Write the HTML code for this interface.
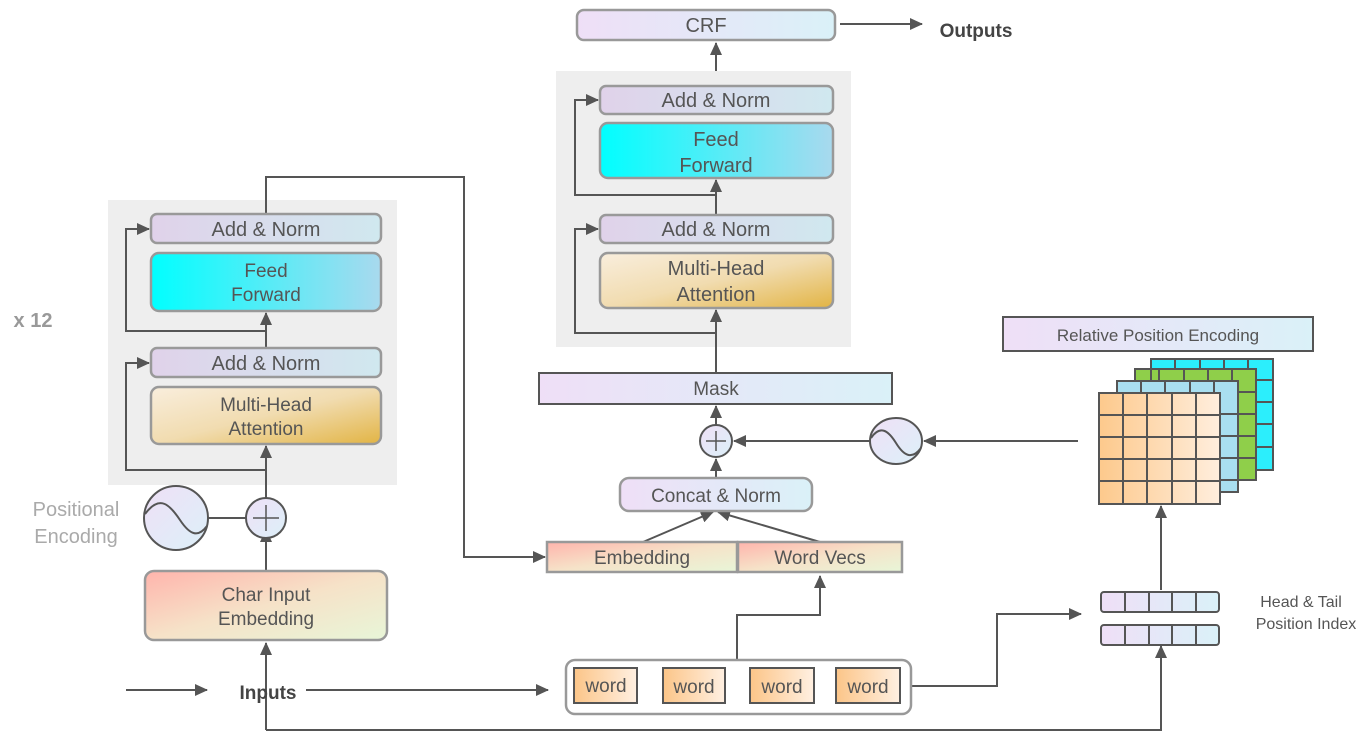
<!DOCTYPE html>
<html><head><meta charset="utf-8"><style>body{margin:0;background:#fff}svg{display:block}text{font-family:"Liberation Sans",sans-serif}</style></head><body>
<svg width="1365" height="748" viewBox="0 0 1365 748" xmlns="http://www.w3.org/2000/svg">
<defs>
<linearGradient id="an" x1="0" x2="1" y1="0" y2="0"><stop offset="0" stop-color="#e0d2ea"/><stop offset="1" stop-color="#d0e8ef"/></linearGradient>
<linearGradient id="lv" x1="0" x2="1" y1="0" y2="0"><stop offset="0" stop-color="#efdff7"/><stop offset="1" stop-color="#daf1f8"/></linearGradient>
<linearGradient id="ff" x1="0" x2="1" y1="0" y2="0"><stop offset="0" stop-color="#00ffff"/><stop offset="1" stop-color="#a9d9ee"/></linearGradient>
<linearGradient id="mh" x1="0" x2="1" y1="0" y2="1"><stop offset="0" stop-color="#f9eedd"/><stop offset="0.5" stop-color="#f1dcb0"/><stop offset="1" stop-color="#e2b444"/></linearGradient>
<linearGradient id="em" x1="0" x2="1" y1="0" y2="1"><stop offset="0" stop-color="#ffb4ac"/><stop offset="0.5" stop-color="#f6e2c8"/><stop offset="1" stop-color="#e8f6d8"/></linearGradient>
<linearGradient id="wd" x1="0" x2="1" y1="0" y2="0"><stop offset="0" stop-color="#fcc588"/><stop offset="1" stop-color="#fff0e2"/></linearGradient>
<linearGradient id="or" x1="0" x2="1" y1="0" y2="0"><stop offset="0" stop-color="#fdc98c"/><stop offset="1" stop-color="#ffeedd"/></linearGradient>
<linearGradient id="ci" x1="0" x2="1" y1="0" y2="1"><stop offset="0" stop-color="#efe0f6"/><stop offset="1" stop-color="#dcf0f9"/></linearGradient>
<marker id="a" markerWidth="13" markerHeight="12" refX="12" refY="6" orient="auto" markerUnits="userSpaceOnUse"><path d="M0,0 L13,6 L0,12 z" fill="#555"/></marker>
</defs>
<rect x="108" y="200" width="289" height="285" fill="#eeeeee"/>
<rect x="556" y="71" width="295" height="276" fill="#eeeeee"/>

<g stroke="#555" stroke-width="2" fill="none">
<path d="M266 570 V530" marker-end="url(#a)"/>
<path d="M266 498 V446" marker-end="url(#a)"/>
<path d="M266 470 H126 V363 H149" marker-end="url(#a)"/>
<path d="M266 378 V313" marker-end="url(#a)"/>
<path d="M266 331 H126 V229 H149" marker-end="url(#a)"/>
<path d="M266 214 V177 H464 V557 H545" marker-end="url(#a)"/>
<path d="M208 518 H246"/>
<path d="M266 730 V643" marker-end="url(#a)"/>
<path d="M126 690 H207" marker-end="url(#a)"/>
<path d="M306 690 H548" marker-end="url(#a)"/>
<path d="M266 730 H1161 V646" marker-end="url(#a)"/>
<path d="M716 373 V310" marker-end="url(#a)"/>
<path d="M716 333 H575 V229 H598" marker-end="url(#a)"/>
<path d="M716 243 V180" marker-end="url(#a)"/>
<path d="M716 195 H575 V100 H598" marker-end="url(#a)"/>
<path d="M716 71 V43" marker-end="url(#a)"/>
<path d="M840 24 H922" marker-end="url(#a)"/>
<path d="M716 478 V459" marker-end="url(#a)"/>
<path d="M716 425 V406" marker-end="url(#a)"/>
<path d="M1078 441 H924" marker-end="url(#a)"/>
<path d="M870 441 H734" marker-end="url(#a)"/>
<path d="M643 542 L713 512" marker-end="url(#a)"/>
<path d="M820 542 L718 512" marker-end="url(#a)"/>
<path d="M737 660 V615 H820 V576" marker-end="url(#a)"/>
<path d="M911 686 H997 V614 H1081" marker-end="url(#a)"/>
<path d="M1161 590 V506" marker-end="url(#a)"/>
</g>

<g stroke="#999" stroke-width="2.5">
<rect x="151" y="214" width="230" height="29" rx="6" fill="url(#an)"/>
<rect x="151" y="253" width="230" height="58" rx="8" fill="url(#ff)"/>
<rect x="151" y="348" width="230" height="29" rx="6" fill="url(#an)"/>
<rect x="151" y="387" width="230" height="57" rx="8" fill="url(#mh)"/>
<rect x="145" y="571" width="242" height="69" rx="9" fill="url(#em)"/>
<rect x="577" y="10" width="258" height="30" rx="7" fill="url(#lv)"/>
<rect x="600" y="86" width="233" height="28" rx="6" fill="url(#an)"/>
<rect x="600" y="123" width="233" height="55" rx="8" fill="url(#ff)"/>
<rect x="600" y="215" width="233" height="28" rx="6" fill="url(#an)"/>
<rect x="600" y="253" width="233" height="55" rx="8" fill="url(#mh)"/>
<rect x="620" y="478" width="192" height="33" rx="9" fill="url(#lv)"/>
<rect x="547" y="542" width="190" height="30" fill="url(#em)"/>
<rect x="738" y="542" width="164" height="30" fill="url(#em)"/>
<rect x="566" y="660" width="345" height="54" rx="9" fill="#fff"/>
</g>
<g stroke="#555" stroke-width="2">
<rect x="539" y="373" width="353" height="31" fill="url(#lv)"/>
<rect x="1003" y="317" width="310" height="34" fill="url(#lv)"/>
<rect x="574" y="668" width="63" height="35" fill="url(#wd)"/>
<rect x="663" y="668" width="62" height="35" fill="url(#wd)"/>
<rect x="750" y="668" width="64" height="35" fill="url(#wd)"/>
<rect x="836" y="668" width="64" height="35" fill="url(#wd)"/>
<circle cx="176" cy="518" r="32" fill="url(#ci)"/>
<circle cx="266" cy="518" r="20" fill="url(#ci)"/>
<circle cx="716" cy="441" r="16" fill="url(#ci)"/>
<ellipse cx="896" cy="441" rx="26" ry="23" fill="url(#ci)"/>
</g>
<g stroke="#555" stroke-width="2" fill="none">
<path d="M145 514 C160 494 170 505 180 520 C190 535 198 538 207 526"/>
<path d="M871 438 C880 425 888 430 896 443 C904 456 912 460 921 448"/>
<path d="M253 518 H279 M266 505 V531" stroke-width="1.5"/>
<path d="M706 441 H726 M716 431 V451" stroke-width="1.5"/>
</g>
<g stroke="#555" stroke-width="2">
<rect x="1151" y="359" width="122" height="111" fill="#2ceefc"/>
<rect x="1135" y="369" width="121" height="111" fill="#8fcf4a"/>
<rect x="1117" y="381" width="121" height="111" fill="#a9dff0"/>
<rect x="1099" y="393" width="121" height="111" fill="url(#or)"/>
<path d="M1099 415 H1220 M1099 437 H1220 M1099 459 H1220 M1099 481 H1220 M1123 393 V504 M1147 393 V504 M1172 393 V504 M1196 393 V504"/>
<path d="M1151 381 V359 M1175 369 V359 M1200 369 V359 M1224 369 V359 M1248 369 V359 M1256 380 H1273 M1256 402 H1273 M1256 424 H1273 M1256 447 H1273"/>
<path d="M1135 381 V369 M1159 381 V369 M1184 381 V369 M1208 381 V369 M1232 381 V369 M1238 392 H1256 M1238 414 H1256 M1238 436 H1256 M1238 458 H1256"/>
<path d="M1141 393 V381 M1165 393 V381 M1190 393 V381 M1214 393 V381 M1220 414 H1238 M1220 436 H1238 M1220 458 H1238 M1220 480 H1238"/>
<rect x="1101" y="592" width="118" height="20" rx="3" fill="url(#lv)"/>
<rect x="1101" y="625" width="118" height="20" rx="3" fill="url(#lv)"/>
<path d="M1125 592 V612 M1149 592 V612 M1172 592 V612 M1196 592 V612 M1125 625 V645 M1149 625 V645 M1172 625 V645 M1196 625 V645"/>
</g>

<g fill="#555" font-size="20" text-anchor="middle">
<text x="266" y="236">Add &amp; Norm</text>
<text x="266" y="277" font-size="19">Feed</text>
<text x="266" y="301" font-size="19">Forward</text>
<text x="266" y="370">Add &amp; Norm</text>
<text x="266" y="411" font-size="19">Multi-Head</text>
<text x="266" y="435" font-size="19">Attention</text>
<text x="266" y="601" font-size="19">Char Input</text>
<text x="266" y="625" font-size="19">Embedding</text>
<text x="76" y="516" fill="#aaa">Positional</text>
<text x="76" y="543" fill="#aaa">Encoding</text>
<text x="33" y="327" fill="#999" font-weight="bold">x 12</text>
<text x="268" y="699" fill="#444" font-weight="bold" font-size="19">Inputs</text>
<text x="706" y="32">CRF</text>
<text x="976" y="37" fill="#444" font-weight="bold" font-size="19">Outputs</text>
<text x="716" y="107">Add &amp; Norm</text>
<text x="716" y="146">Feed</text>
<text x="716" y="172">Forward</text>
<text x="716" y="236">Add &amp; Norm</text>
<text x="716" y="275">Multi-Head</text>
<text x="716" y="301">Attention</text>
<text x="716" y="395" font-size="19">Mask</text>
<text x="716" y="502" font-size="19">Concat &amp; Norm</text>
<text x="642" y="564" font-size="19">Embedding</text>
<text x="820" y="564" font-size="19">Word Vecs</text>
<text x="606" y="692" font-size="19">word</text>
<text x="694" y="693" font-size="19">word</text>
<text x="782" y="693" font-size="19">word</text>
<text x="868" y="693" font-size="19">word</text>
<text x="1158" y="341" font-size="17">Relative Position Encoding</text>
<text x="1301" y="607" font-size="16">Head &amp; Tail</text>
<text x="1306" y="629" font-size="16">Position Index</text>
</g>
</svg>
</body></html>
